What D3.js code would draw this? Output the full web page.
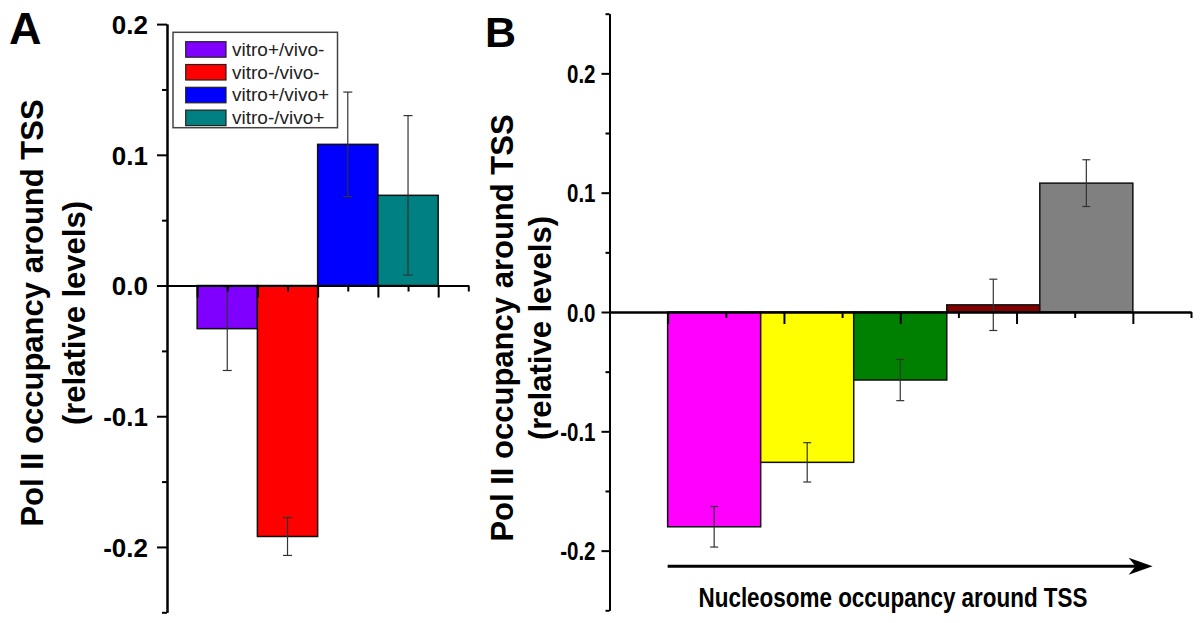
<!DOCTYPE html>
<html>
<head>
<meta charset="utf-8">
<script src="https://cdn.jsdelivr.net/npm/d3@7/dist/d3.min.js"></script>
<style>
  html, body { margin: 0; padding: 0; background: #fff; }
  svg { display: block; }
  .lbl { font-family: "Liberation Sans", Arial, sans-serif; font-weight: bold; fill: #000; }
  .narrow { font-family: "Liberation Sans Narrow", "Arial Narrow", "Liberation Sans", Arial, sans-serif; font-weight: bold; fill: #000; }
</style>
</head>
<body>
<svg id="chart" width="1200" height="623"></svg>
<script>
// ---------- Data ----------
const categoriesA = ["vitro+/vivo-", "vitro-/vivo-", "vitro+/vivo+", "vitro-/vivo+"];
const valuesA = [-0.033, -0.192, 0.108, 0.069];
const errorsA = [0.032, 0.0145, 0.040, 0.061];
const colorsA = ["#8000ff", "#ff0000", "#0000ff", "#008080"];

const categoriesB = ["g1", "g2", "g3", "g4", "g5"];
const valuesB = [-0.180, -0.126, -0.057, 0.006, 0.108];
const errorsB = [0.017, 0.0165, 0.0173, 0.0215, 0.0196];
const colorsB = ["#ff00ff", "#ffff00", "#008000", "#800000", "#808080"];

const yMajorTicks = [-0.2, -0.1, 0.0, 0.1, 0.2];
const yMinorTicksA = [-0.25, -0.15, -0.05, 0.05, 0.15];
const yMinorTicksB = [-0.25, -0.15, -0.05, 0.05, 0.15, 0.25];
const xMajorTicks = [1, 2, 3, 4, 5];
const xMinorTicks = [1.5, 2.5, 3.5, 4.5, 5.5];

const yTitle = ["Pol II occupancy around TSS", "(relative levels)"];
const xTitleB = "Nucleosome occupancy around TSS";

// ---------- Drawing ----------
const svg = d3.select("#chart");

function narrowize(sel, factor) {
  sel.each(function () {
    const len = this.getComputedTextLength();
    if (len > 0) {
      d3.select(this).attr("textLength", len * factor).attr("lengthAdjust", "spacingAndGlyphs");
    }
  });
}

function panel(cfg) {
  const g = svg.append("g");
  const x = d3.scaleLinear().domain([0.5, 5.5]).range([cfg.x0, cfg.x1]);
  const y = d3.scaleLinear().domain(cfg.yDomain).range([cfg.yBottom, cfg.yTop]);
  const band = d3.scaleBand().domain(cfg.cats).range([x(1), x(5)]).padding(0);
  const data = cfg.cats.map((c, i) => ({ c, v: cfg.values[i], e: cfg.errors[i], col: cfg.colors[i] }));

  // bars
  g.selectAll("rect.bar").data(data).join("rect")
    .attr("class", "bar")
    .attr("x", d => band(d.c))
    .attr("width", band.bandwidth())
    .attr("y", d => Math.min(y(0), y(d.v)))
    .attr("height", d => Math.abs(y(d.v) - y(0)))
    .attr("fill", d => d.col)
    .attr("stroke", "#111")
    .attr("stroke-width", 1.5);

  // error bars
  const eb = g.selectAll("g.err").data(data).join("g").attr("class", "err")
    .attr("stroke", "#333").attr("stroke-width", 1.2);
  const cx = d => band(d.c) + band.bandwidth() / 2;
  eb.append("line").attr("x1", cx).attr("x2", cx)
    .attr("y1", d => y(d.v - d.e)).attr("y2", d => y(d.v + d.e));
  eb.append("line").attr("x1", d => cx(d) - cfg.cap).attr("x2", d => cx(d) + cfg.cap)
    .attr("y1", d => y(d.v - d.e)).attr("y2", d => y(d.v - d.e));
  eb.append("line").attr("x1", d => cx(d) - cfg.cap).attr("x2", d => cx(d) + cfg.cap)
    .attr("y1", d => y(d.v + d.e)).attr("y2", d => y(d.v + d.e));

  // x axis (at zero)
  const xAxMajor = d3.axisBottom(x).tickValues(xMajorTicks).tickSize(12).tickSizeOuter(0).tickFormat("");
  const xAxMinor = d3.axisBottom(x).tickValues(xMinorTicks).tickSize(6).tickSizeOuter(0).tickFormat("");
  const gx = g.append("g").attr("transform", `translate(0,${y(0)})`).call(xAxMajor);
  const gx2 = g.append("g").attr("transform", `translate(0,${y(0)})`).call(xAxMinor);
  [gx, gx2].forEach(a => {
    a.selectAll("line").attr("stroke", "#000").attr("stroke-width", 2);
    a.select(".domain").attr("stroke", "#000").attr("stroke-width", 2);
  });

  // y axis
  const yAxMajor = d3.axisLeft(y).tickValues(yMajorTicks).tickSize(cfg.yTick).tickSizeOuter(0)
    .tickPadding(cfg.yPad).tickFormat(d => d.toFixed(1));
  const yAxMinor = d3.axisLeft(y).tickValues(cfg.yMinor).tickSize(cfg.yTick / 2).tickSizeOuter(0).tickFormat("");
  const gy = g.append("g").attr("transform", `translate(${cfg.x0},0)`).call(yAxMajor);
  const gy2 = g.append("g").attr("transform", `translate(${cfg.x0},0)`).call(yAxMinor);
  [gy, gy2].forEach(a => {
    a.selectAll("line").attr("stroke", "#000").attr("stroke-width", 2);
    a.select(".domain").attr("stroke", "#000").attr("stroke-width", 2);
  });
  const tl = gy.selectAll("text").attr("class", cfg.tickClass).attr("font-size", cfg.tickSize)
    .attr("fill", "#000").attr("dy", "0.36em");
  if (cfg.narrow) narrowize(tl, cfg.narrow);

  // y title
  const yt = g.append("g").attr("class", "lbl").attr("font-size", 31);
  yTitle.forEach((t, i) => {
    yt.append("text")
      .attr("transform", `translate(${cfg.titleX[i]},${cfg.titleY}) rotate(-90)`)
      .attr("text-anchor", "middle")
      .text(t);
  });

  // panel letter
  g.append("text").attr("class", "lbl").attr("x", cfg.letterX).attr("y", cfg.letterY)
    .attr("font-size", cfg.letterSize).text(cfg.letter);

  return { g, x, y };
}

const A = panel({
  cats: categoriesA, values: valuesA, errors: errorsA, colors: colorsA,
  x0: 167, x1: 468.3, yDomain: [-0.25, 0.2], yBottom: 612.3, yTop: 24.1,
  yMinor: yMinorTicksA, yTick: 10, yPad: 9, cap: 4.5,
  tickClass: "lbl", tickSize: 26, narrow: 0,
  titleX: [43, 85], titleY: 313,
  letter: "A", letterX: 9, letterY: 44, letterSize: 45
});

const B = panel({
  cats: categoriesB, values: valuesB, errors: errorsB, colors: colorsB,
  x0: 609.5, x1: 1191, yDomain: [-0.25, 0.25], yBottom: 610.3, yTop: 13.7,
  yMinor: yMinorTicksB, yTick: 8, yPad: 6, cap: 4,
  tickClass: "narrow", tickSize: 25, narrow: 0.82,
  titleX: [513, 551], titleY: 328,
  letter: "B", letterX: 485, letterY: 47, letterSize: 43
});

// legend for A
const leg = svg.append("g").attr("transform", "translate(173,32.3)");
leg.append("rect").attr("width", 164.5).attr("height", 95.4)
  .attr("fill", "#fff").attr("stroke", "#444").attr("stroke-width", 1.5);
const li = leg.selectAll("g.item").data(categoriesA).join("g").attr("class", "item")
  .attr("transform", (d, i) => `translate(12.7,${9.4 + i * 22.8})`);
li.append("rect").attr("width", 40.3).attr("height", 15.5)
  .attr("fill", (d, i) => colorsA[i]).attr("stroke", "#222").attr("stroke-width", 1.2);
li.append("text").attr("x", 46.3).attr("y", 14)
  .attr("font-family", "'Liberation Sans', Arial, sans-serif").attr("font-size", 19)
  .attr("fill", "#222").text(d => d);

// arrow + x title for B
const ay = B.y(-0.213);
const ax0 = B.x(1), ax1 = B.x(5.17);
B.g.append("line").attr("x1", ax0).attr("x2", ax1 - 14).attr("y1", ay).attr("y2", ay)
  .attr("stroke", "#000").attr("stroke-width", 3);
B.g.append("path")
  .attr("d", `M${ax1},${ay} L${ax1 - 24},${ay - 8.5} L${ax1 - 17},${ay} L${ax1 - 24},${ay + 8.5} Z`)
  .attr("fill", "#000");
B.g.append("text").attr("class", "narrow").attr("font-size", 28)
  .attr("x", 893).attr("y", 607).attr("text-anchor", "middle")
  .attr("textLength", 389).attr("lengthAdjust", "spacingAndGlyphs")
  .text(xTitleB);
</script>
</body>
</html>
